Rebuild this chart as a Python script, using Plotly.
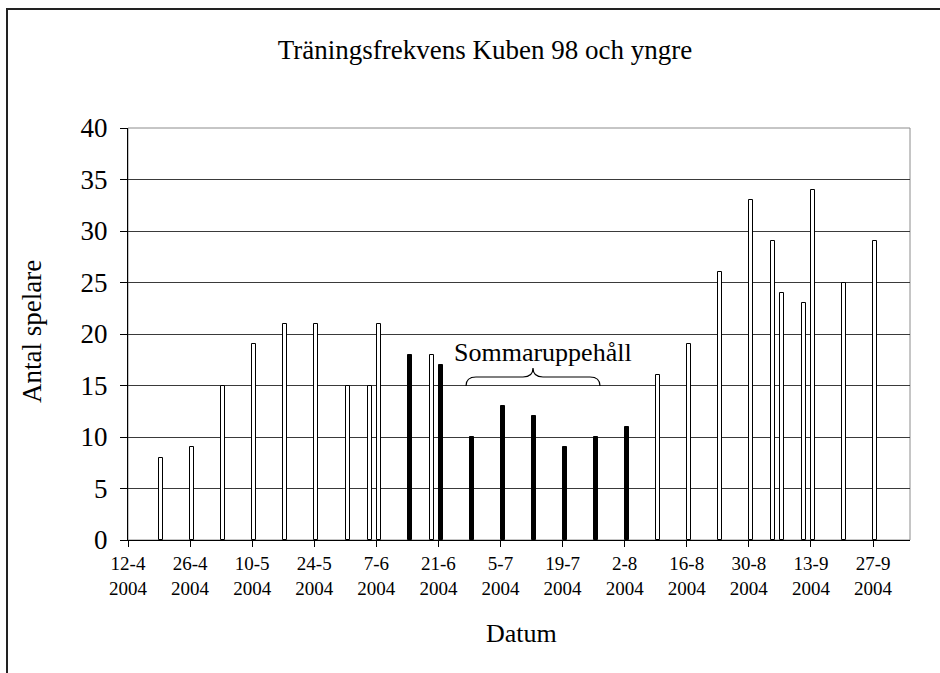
import plotly.graph_objects as go

# ---------------- data ----------------
dates = ["2004-04-19", "2004-04-26", "2004-05-03", "2004-05-10", "2004-05-17",
         "2004-05-24", "2004-05-31", "2004-06-05", "2004-06-07", "2004-06-14",
         "2004-06-19", "2004-06-21", "2004-06-28", "2004-07-05", "2004-07-12",
         "2004-07-19", "2004-07-26", "2004-08-02", "2004-08-09", "2004-08-16",
         "2004-08-23", "2004-08-30", "2004-09-04", "2004-09-06", "2004-09-11",
         "2004-09-13", "2004-09-20", "2004-09-27"]
players = [8, 9, 15, 19, 21, 21, 15, 15, 21, 18, 18, 17, 10, 13, 12, 9, 10, 11,
           16, 19, 26, 33, 29, 24, 23, 34, 25, 29]

tick_dates = ["2004-04-12", "2004-04-26", "2004-05-10", "2004-05-24", "2004-06-07",
              "2004-06-21", "2004-07-05", "2004-07-19", "2004-08-02", "2004-08-16",
              "2004-08-30", "2004-09-13", "2004-09-27"]
tick_labels = ["12-4<br>2004", "26-4<br>2004", "10-5<br>2004", "24-5<br>2004",
               "7-6<br>2004", "21-6<br>2004", "5-7<br>2004", "19-7<br>2004",
               "2-8<br>2004", "16-8<br>2004", "30-8<br>2004", "13-9<br>2004",
               "27-9<br>2004"]

title_text = "Träningsfrekvens Kuben 98 och yngre"
x_title = "Datum"
y_title = "Antal spelare"
note_text = "Sommaruppehåll"

# ---------------- style ----------------
FONT = "Liberation Serif, Times New Roman, serif"
W, H = 940, 673
L, R, T, B = 128, 30, 128, 133
PW, PH = W - L - R, H - T - B

def px(x):
    return (x - L) / PW

def py(y):
    return (H - B - y) / PH

solid_set = {"2004-06-14", "2004-06-21", "2004-06-28", "2004-07-05",
             "2004-07-12", "2004-07-19", "2004-07-26", "2004-08-02"}
fills = ["black" if d in solid_set else "white" for d in dates]

DAY = 86400000
bw = 0.9 * DAY

fig = go.Figure()
fig.add_trace(go.Bar(
    x=dates, y=players,
    width=[bw] * len(dates),
    offset=(DAY - bw) / 2,
    marker=dict(color=fills, line=dict(color="black", width=1)),
    showlegend=False,
))

shapes = [
    dict(type="rect", xref="paper", yref="paper", x0=0, y0=0, x1=1, y1=1,
         line=dict(color="#8c8c8c", width=1), layer="below"),
    dict(type="rect", xref="paper", yref="paper", x0=px(7), y0=py(9), x1=px(990), y1=py(720),
         line=dict(color="#222222", width=2)),
]

bp = [(466, 386), (466, 377), (476, 377), (523, 377), (533, 377), (533, 368),
      (533, 377), (543, 377), (590, 377), (600, 377), (600, 386)]
c = [(px(a), py(b)) for a, b in bp]
path = ("M {0[0]},{0[1]} Q {1[0]},{1[1]} {2[0]},{2[1]} L {3[0]},{3[1]} "
        "Q {4[0]},{4[1]} {5[0]},{5[1]} Q {6[0]},{6[1]} {7[0]},{7[1]} "
        "L {8[0]},{8[1]} Q {9[0]},{9[1]} {10[0]},{10[1]}").format(*c)
shapes.append(dict(type="path", xref="paper", yref="paper", path=path,
                   line=dict(color="black", width=1.2)))

annotations = [
    dict(text=note_text, xref="paper", yref="paper", x=px(543), y=py(352),
         xanchor="center", yanchor="middle", showarrow=False,
         font=dict(family=FONT, size=26, color="black")),
    dict(text=y_title, xref="paper", yref="paper", x=px(32), y=py(332),
         xanchor="center", yanchor="middle", showarrow=False, textangle=-90,
         font=dict(family=FONT, size=27, color="black")),
    dict(text=x_title, xref="paper", yref="paper", x=px(521), y=py(633),
         xanchor="center", yanchor="middle", showarrow=False,
         font=dict(family=FONT, size=26, color="black")),
]

fig.update_layout(
    width=W, height=H,
    margin=dict(l=L, r=R, t=T, b=B),
    paper_bgcolor="white", plot_bgcolor="white",
    title=dict(text=title_text, x=485 / W, y=1 - 50 / H, xref="container", yref="container",
               xanchor="center", yanchor="middle",
               font=dict(family=FONT, size=27, color="black")),
    xaxis=dict(type="date", range=["2004-04-12", "2004-10-05 08:00"],
               tickmode="array", tickvals=tick_dates, ticktext=tick_labels,
               ticks="outside", ticklen=6, tickcolor="black", tickwidth=1,
               showline=True, linecolor="black", linewidth=1,
               showgrid=False, zeroline=False,
               tickfont=dict(family=FONT, size=19, color="black")),
    yaxis=dict(range=[0, 40], tick0=0, dtick=5,
               ticks="outside", ticklen=7, tickcolor="black", tickwidth=1,
               showline=True, linecolor="black", linewidth=1,
               showgrid=True, gridcolor="#3a3a3a", gridwidth=1, zeroline=False,
               ticklabelstandoff=7,
               tickfont=dict(family=FONT, size=27, color="black")),
    shapes=shapes, annotations=annotations,
    bargap=0,
)

fig.write_html("out.html", config={"displayModeBar": False},
               post_script="document.body.style.margin='0';document.body.style.overflow='hidden';")
